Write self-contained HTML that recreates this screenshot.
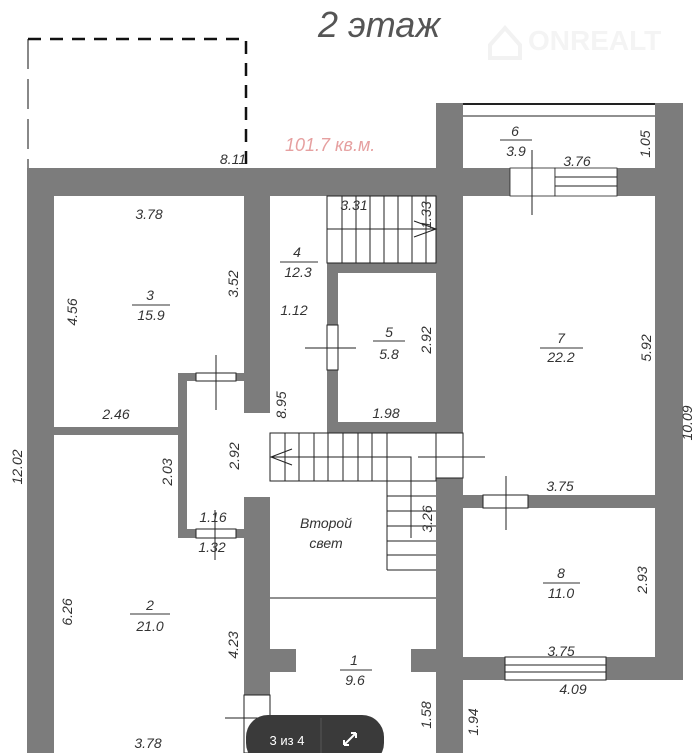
<!DOCTYPE html>
<html><head><meta charset="utf-8"><style>
html,body{margin:0;padding:0;background:#fff;}
svg{display:block;}
text{font-family:"Liberation Sans","DejaVu Sans",sans-serif;font-style:italic;fill:#333;font-size:14px;}
</style></head><body>
<svg width="697" height="753" viewBox="0 0 697 753" xmlns="http://www.w3.org/2000/svg">
<path d="M28 39 H246 V168" fill="none" stroke="#111" stroke-width="2.5" stroke-dasharray="13,9"/>
<path d="M28 39 V168" fill="none" stroke="#111" stroke-width="1" stroke-dasharray="30,10"/>
<text x="318" y="37" style="font-size:36px;font-weight:lighter;fill:#555">2 этаж</text>
<text x="285" y="151" style="font-size:18px;fill:#e6a0a0">101.7 кв.м.</text>
<text x="528" y="50" style="font-size:28px;font-style:normal;font-weight:bold;fill:#f4f4f4">ONREALT</text>
<path d="M490 45 L505 28 L520 45 V58 H490Z" fill="none" stroke="#f2f2f2" stroke-width="4"/>
<g fill="#7c7c7c">
<rect x="27" y="168" width="27" height="585"/>
<rect x="27" y="168" width="656" height="28"/>
<rect x="436" y="103" width="27" height="93"/>
<rect x="655" y="103" width="28" height="577"/>
<rect x="463" y="657" width="220" height="23"/>
<rect x="244" y="196" width="26" height="217"/>
<rect x="53" y="427" width="130" height="8"/>
<rect x="178" y="373" width="9" height="165"/>
<rect x="178" y="373" width="66" height="8"/>
<rect x="178" y="529" width="66" height="9"/>
<rect x="244" y="497" width="26" height="198"/>
<rect x="327" y="263" width="109" height="10"/>
<rect x="327" y="263" width="11" height="170"/>
<rect x="327" y="422" width="109" height="11"/>
<rect x="436" y="196" width="27" height="237"/>
<rect x="436" y="478" width="27" height="275"/>
<rect x="463" y="495" width="192" height="13"/>
<rect x="270" y="649" width="26" height="23"/>
<rect x="411" y="649" width="25" height="23"/>
</g>
<g fill="#fff" stroke="#222" stroke-width="1">
<rect x="463" y="105" width="192" height="11" stroke="none"/>
<line x1="463" y1="116" x2="655" y2="116"/>
<line x1="463" y1="104" x2="655" y2="104" stroke-width="2"/>
<rect x="510" y="168" width="45" height="28" stroke-width="0.8"/>
<rect x="555" y="168" width="62" height="28" stroke-width="0.8"/>
<line x1="555" y1="177" x2="617" y2="177"/><line x1="555" y1="186" x2="617" y2="186"/>
<rect x="196" y="373" width="40" height="8"/>
<rect x="196" y="529" width="40" height="9"/>
<rect x="327" y="325" width="11" height="45"/>
<rect x="436" y="433" width="27" height="45"/>
<rect x="483" y="495" width="45" height="13"/>
<rect x="505" y="657" width="101" height="23"/>
<line x1="505" y1="665" x2="606" y2="665"/><line x1="505" y1="672" x2="606" y2="672"/>
<rect x="244" y="695" width="26" height="58"/>
</g>
<g stroke="#222" stroke-width="1" fill="none">
<line x1="532" y1="150" x2="532" y2="215"/>
<line x1="216" y1="355" x2="216" y2="410"/>
<line x1="305" y1="348" x2="356" y2="348"/>
<line x1="418" y1="457" x2="485" y2="457"/>
<line x1="506" y1="476" x2="506" y2="530"/>
<line x1="215" y1="510" x2="215" y2="560"/>
<line x1="225" y1="718" x2="290" y2="718"/>
<rect x="327" y="196" width="109" height="67"/>
<line x1="342" y1="196" x2="342" y2="263"/><line x1="356" y1="196" x2="356" y2="263"/>
<line x1="370" y1="196" x2="370" y2="263"/><line x1="384" y1="196" x2="384" y2="263"/>
<line x1="398" y1="196" x2="398" y2="263"/><line x1="412" y1="196" x2="412" y2="263"/>
<line x1="426" y1="196" x2="426" y2="263"/>
<line x1="327" y1="229" x2="436" y2="229"/>
<path d="M414 221 L436 229 L414 237"/>
<rect x="270" y="433" width="166" height="48"/>
<line x1="285" y1="433" x2="285" y2="481"/><line x1="299" y1="433" x2="299" y2="481"/>
<line x1="314" y1="433" x2="314" y2="481"/><line x1="328" y1="433" x2="328" y2="481"/>
<line x1="343" y1="433" x2="343" y2="481"/><line x1="358" y1="433" x2="358" y2="481"/>
<line x1="372" y1="433" x2="372" y2="481"/><line x1="387" y1="433" x2="387" y2="570"/>
<line x1="387" y1="570" x2="436" y2="570"/>
<line x1="387" y1="496" x2="436" y2="496"/><line x1="387" y1="511" x2="436" y2="511"/>
<line x1="387" y1="526" x2="436" y2="526"/><line x1="387" y1="541" x2="436" y2="541"/>
<line x1="387" y1="555" x2="436" y2="555"/>
<path d="M270 457 H411 V538"/>
<path d="M292 449 L271 457 L292 465"/>
<line x1="270" y1="598" x2="436" y2="598"/>
</g>
<g text-anchor="middle">
<text x="150" y="300">3</text><line x1="132" y1="305" x2="170" y2="305" stroke="#333"/><text x="151" y="320">15.9</text>
<text x="297" y="257">4</text><line x1="280" y1="262" x2="318" y2="262" stroke="#333"/><text x="298" y="277">12.3</text>
<text x="389" y="337">5</text><line x1="373" y1="341" x2="405" y2="341" stroke="#333"/><text x="389" y="359">5.8</text>
<text x="515" y="136">6</text><line x1="500" y1="140" x2="532" y2="140" stroke="#333"/><text x="516" y="156">3.9</text>
<text x="561" y="343">7</text><line x1="540" y1="348" x2="583" y2="348" stroke="#333"/><text x="561" y="362">22.2</text>
<text x="561" y="578">8</text><line x1="543" y1="583" x2="580" y2="583" stroke="#333"/><text x="561" y="598">11.0</text>
<text x="150" y="610">2</text><line x1="130" y1="614" x2="170" y2="614" stroke="#333"/><text x="150" y="631">21.0</text>
<text x="354" y="665">1</text><line x1="340" y1="670" x2="372" y2="670" stroke="#333"/><text x="355" y="685">9.6</text>
<text x="326" y="528">Второй</text><text x="326" y="548">свет</text>
<text x="149" y="219">3.78</text>
<text x="233" y="164">8.11</text>
<text x="354" y="210">3.31</text>
<text x="577" y="166">3.76</text>
<text x="294" y="315">1.12</text>
<text x="116" y="419">2.46</text>
<text x="386" y="418">1.98</text>
<text x="560" y="491">3.75</text>
<text x="213" y="522">1.16</text>
<text x="212" y="552">1.32</text>
<text x="561" y="656">3.75</text>
<text x="573" y="694">4.09</text>
<text x="148" y="748">3.78</text>
</g>
<g text-anchor="middle">
<text transform="translate(77,312) rotate(-90)">4.56</text>
<text transform="translate(238,284) rotate(-90)">3.52</text>
<text transform="translate(431,215) rotate(-90)">1.33</text>
<text transform="translate(431,340) rotate(-90)">2.92</text>
<text transform="translate(650,144) rotate(-90)">1.05</text>
<text transform="translate(651,348) rotate(-90)">5.92</text>
<text transform="translate(692,423) rotate(-90)">10.09</text>
<text transform="translate(286,405) rotate(-90)">8.95</text>
<text transform="translate(239,456) rotate(-90)">2.92</text>
<text transform="translate(172,472) rotate(-90)">2.03</text>
<text transform="translate(22,467) rotate(-90)">12.02</text>
<text transform="translate(432,519) rotate(-90)">3.26</text>
<text transform="translate(647,580) rotate(-90)">2.93</text>
<text transform="translate(72,612) rotate(-90)">6.26</text>
<text transform="translate(238,645) rotate(-90)">4.23</text>
<text transform="translate(431,715) rotate(-90)">1.58</text>
<text transform="translate(478,722) rotate(-90)">1.94</text>
</g>
<rect x="246" y="715" width="138" height="50" rx="22" fill="#3a3a3a"/>
<line x1="321" y1="718" x2="321" y2="753" stroke="#555"/>
<text x="287" y="745" text-anchor="middle" style="font-style:normal;fill:#fff;font-size:13px">3 из 4</text>
<path d="M344 745 L356 733 M344 745 V740 M344 745 H349 M356 733 H351 M356 733 V738" stroke="#fff" stroke-width="2" fill="none"/>
</svg>
</body></html>
